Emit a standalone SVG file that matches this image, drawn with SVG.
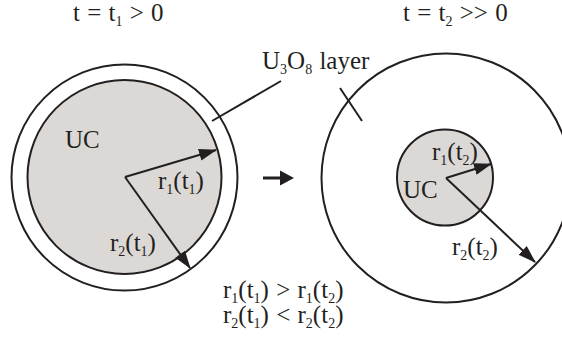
<svg xmlns="http://www.w3.org/2000/svg" width="562" height="338" viewBox="0 0 562 338">
<defs>
<style>
.t{font-family:'Liberation Serif','DejaVu Serif',serif;font-size:25px;fill:#231f20;word-spacing:1px}
.s{font-size:14px}
.ln{stroke:#231f20;stroke-width:2;fill:none}
.core{fill:#dbd8d5;stroke:#231f20;stroke-width:2}
.shell{fill:#fff;stroke:#231f20;stroke-width:2}
</style>
<marker id="ah" markerUnits="userSpaceOnUse" markerWidth="18" markerHeight="12" refX="17" refY="6" orient="auto" viewBox="0 0 18 12">
<path d="M0,0 L18,6 L0,12 Z" fill="#231f20"/>
</marker>
</defs>
<rect width="562" height="338" fill="#fff"/>
<g id="title1"><text class="t" x="73" y="21">t = t<tspan class="s" dy="5">1</tspan><tspan dy="-5"> &gt; 0</tspan></text></g>
<g id="title2"><text class="t" x="403" y="21">t = t<tspan class="s" dy="5">2</tspan><tspan dy="-5"> &gt;&gt; 0</tspan></text></g>
<g id="left-particle">
<circle class="shell" cx="124.5" cy="177.5" r="113"/>
<circle class="core" cx="124.5" cy="177" r="97"/>
<text class="t" x="65" y="148">UC</text>
<text class="t" x="158" y="189">r<tspan class="s" dy="5">1</tspan><tspan dy="-5">(t</tspan><tspan class="s" dy="5">1</tspan><tspan dy="-5">)</tspan></text>
<text class="t" x="110" y="251">r<tspan class="s" dy="5">2</tspan><tspan dy="-5">(t</tspan><tspan class="s" dy="5">1</tspan><tspan dy="-5">)</tspan></text>
</g>
<g id="right-particle">
<circle class="shell" cx="446" cy="178" r="124.5"/>
<circle class="core" cx="445" cy="177.5" r="48"/>
<text class="t" x="432" y="160">r<tspan class="s" dy="5">1</tspan><tspan dy="-5">(t</tspan><tspan class="s" dy="5">2</tspan><tspan dy="-5">)</tspan></text>
<text class="t" x="403" y="198">UC</text>
<text class="t" x="452" y="255">r<tspan class="s" dy="5">2</tspan><tspan dy="-5">(t</tspan><tspan class="s" dy="5">2</tspan><tspan dy="-5">)</tspan></text>
</g>
<g id="layer-label">
<text class="t" x="262" y="69">U<tspan class="s" dy="5">3</tspan><tspan dy="-5">O</tspan><tspan class="s" dy="5">8</tspan><tspan dy="-5"> layer</tspan></text>
</g>
<g id="relations">
<text class="t" x="223" y="298">r<tspan class="s" dy="5">1</tspan><tspan dy="-5">(t</tspan><tspan class="s" dy="5">1</tspan><tspan dy="-5">) &gt; r</tspan><tspan class="s" dy="5">1</tspan><tspan dy="-5">(t</tspan><tspan class="s" dy="5">2</tspan><tspan dy="-5">)</tspan></text>
<text class="t" x="223" y="323">r<tspan class="s" dy="5">2</tspan><tspan dy="-5">(t</tspan><tspan class="s" dy="5">1</tspan><tspan dy="-5">) &lt; r</tspan><tspan class="s" dy="5">2</tspan><tspan dy="-5">(t</tspan><tspan class="s" dy="5">2</tspan><tspan dy="-5">)</tspan></text>
</g>
<g id="connectors">
<line class="ln" x1="125" y1="177" x2="216" y2="150" marker-end="url(#ah)"/>
<line class="ln" x1="125" y1="177" x2="190" y2="268" marker-end="url(#ah)"/>
<line class="ln" x1="446" y1="178" x2="491" y2="164" marker-end="url(#ah)"/>
<line class="ln" x1="446" y1="178" x2="535" y2="262" marker-end="url(#ah)"/>
<line class="ln" x1="212" y1="121" x2="281" y2="81"/>
<line class="ln" x1="340" y1="88" x2="362" y2="121"/>
<line x1="263" y1="178" x2="282" y2="178" stroke="#231f20" stroke-width="3"/>
<path d="M280,170.5 L294,178 L280,185.5 Z" fill="#231f20"/>
</g>
</svg>
